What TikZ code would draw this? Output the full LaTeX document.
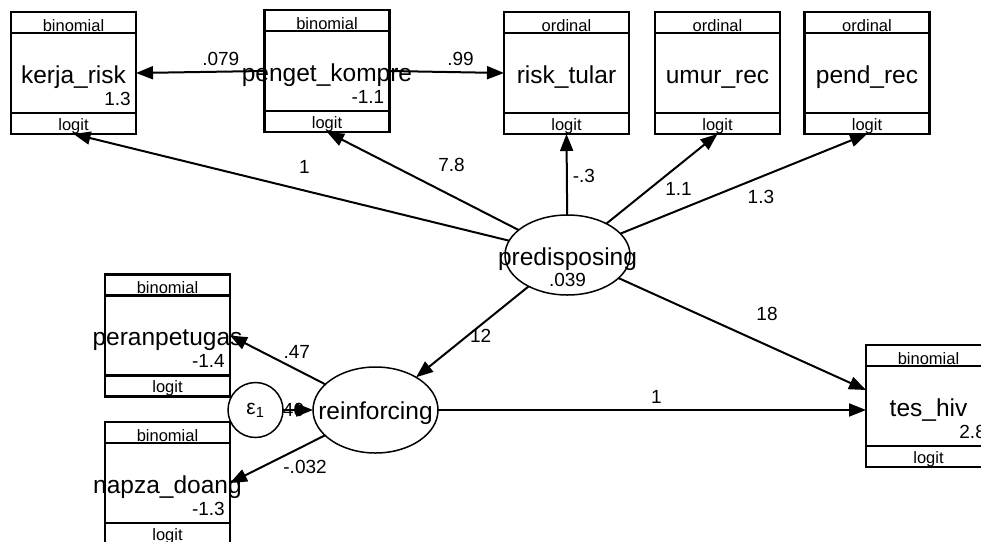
\documentclass[tikz,border=0pt]{standalone}
\usepackage{fontspec}
\setmainfont{Liberation Sans}
\usetikzlibrary{arrows.meta,shapes.geometric}

\tikzset{
  boxline/.style={line width=2.2pt},
  obsbox/.style={draw, boxline, rectangle, minimum width=125pt, minimum height=122pt, inner sep=0pt, outer sep=0pt},
  latent/.style={draw, ellipse, line width=1.5pt, inner sep=0pt, outer sep=0pt},
  errnode/.style={draw, circle, line width=1.5pt, minimum size=55pt, inner sep=0pt, outer sep=0pt,
    font=\fontsize{21}{21}\selectfont},
  bigtxt/.style={inner sep=0pt, font=\fontsize{24.5}{26}\selectfont},
  smalltxt/.style={inner sep=0pt, font=\fontsize{16.5}{17}\selectfont},
  numtxt/.style={inner sep=0pt, font=\fontsize{19}{20}\selectfont},
  lbl/.style={inner sep=0pt, font=\fontsize{19}{20}\selectfont},
  arr/.style={-{Triangle[length=17pt,width=13pt]}, line width=2pt}
}

% observed variable: name, position, family, label, value
\newcommand{\obsvar}[5]{%
  \node[obsbox] (#1) at (#2) {};
  \draw[boxline] ([yshift=-21pt]#1.north west) -- ([yshift=-21pt]#1.north east);
  \draw[boxline] ([yshift=21pt]#1.south west) -- ([yshift=21pt]#1.south east);
  \node[smalltxt, anchor=base] (#1-fam) at ([yshift=-19pt]#1.north) {#3};
  \node[smalltxt, anchor=base] (#1-link) at ([yshift=4pt]#1.south) {logit};
  \node[bigtxt, anchor=base] (#1-name) at ([yshift=-10pt]#1.center) {#4};
  \node[numtxt, anchor=base east] (#1-val) at ([xshift=-5pt,yshift=-32pt]#1.east) {#5};
}

\begin{document}
\begin{tikzpicture}[x=1pt, y=-1pt]
  \useasboundingbox (0,0) rectangle (981,541);

  % top row
  \obsvar{kerja}{73.5,73}{binomial}{kerja\_risk}{1.3}
  \obsvar{penget}{327,71}{binomial}{penget\_kompre}{-1.1}
  \obsvar{risk}{566.5,73}{ordinal}{risk\_tular}{}
  \obsvar{umur}{717.5,73}{ordinal}{umur\_rec}{}
  \obsvar{pend}{867,73}{ordinal}{pend\_rec}{}

  % left column and outcome
  \obsvar{peran}{167.5,335.5}{binomial}{peranpetugas}{-1.4}
  \obsvar{napza}{167.5,483}{binomial}{napza\_doang}{-1.3}
  \obsvar{tes}{928.5,406}{binomial}{tes\_hiv}{2.8}

  % latent variables
  \node[latent, minimum width=125pt, minimum height=80pt] (pred) at (567.5,255) {};
  \node[bigtxt, anchor=base] (pred-name) at ([yshift=-10pt]pred.center) {predisposing};
  \node[numtxt, anchor=base] (pred-val) at ([yshift=-31pt]pred.center) {.039};
  \node[latent, minimum width=125pt, minimum height=86pt] (reinf) at (375.5,410) {};
  \node[bigtxt, anchor=base] (reinf-name) at ([yshift=-9pt]reinf.center) {reinforcing};
  \node[errnode] (eps) at (255.5,410) {ε\textsubscript{1}};

  % paths
  \draw[arr] (pred) -- node[lbl, pos=.47, yshift=24pt] {1} (kerja.south);
  \draw[arr] (pred) -- node[lbl, pos=.35, yshift=31pt] {7.8} (penget.south);
  \draw[arr] (pred) -- node[lbl, pos=.48, xshift=17pt] {-.3} (risk.south);
  \draw[arr] (pred) -- node[lbl, pos=.65, yshift=-24pt] {1.1} (umur.south);
  \draw[arr] (pred) -- node[lbl, pos=.57, yshift=-20pt] {1.3} (pend.south);
  \draw[arr] (penget.west) -- node[lbl, pos=.34, yshift=13pt] {.079} (kerja.east);
  \draw[arr] (penget.east) -- node[lbl, pos=.62, yshift=13pt] {.99} (risk.west);
  \draw[arr] (pred) -- node[lbl, pos=.55, xshift=14pt] {12} (reinf);
  \draw[arr] (pred) -- node[lbl, pos=.6, yshift=31pt] {18} ([yshift=16pt]tes.west);
  \draw[arr] (reinf.east) -- node[lbl, pos=.51, yshift=13pt] {1} (reinf.east -| tes.west);
  \draw[arr] (reinf) -- node[lbl, pos=.3, yshift=18pt] {.47} (peran.east);
  \draw[arr] (reinf) -- node[lbl, pos=.21, yshift=-22pt] {-.032} (napza.east);
  \draw[arr] (eps) -- node[lbl, pos=.35] {40} (reinf);
\end{tikzpicture}
\end{document}
